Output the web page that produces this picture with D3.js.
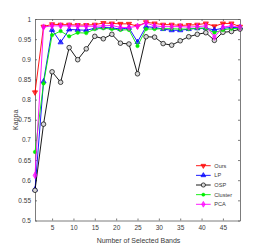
<!DOCTYPE html>
<html>
<head>
<meta charset="utf-8">
<script src="https://cdn.jsdelivr.net/npm/d3@7"></script>
<style>
  body { margin: 0; background: #fff; }
  svg { display: block; font-family: "Liberation Sans", Arial, sans-serif; }
</style>
</head>
<body>
<div id="chart"></div>
<script>
// number of selected bands (x)
const bands = [1, 3, 5, 7, 9, 11, 13, 15, 17, 19, 21, 23, 25, 27, 29, 31, 33, 35, 37, 39, 41, 43, 45, 47, 49];

// kappa values per method
const ours = [0.818, 0.981, 0.987, 0.986, 0.986, 0.985, 0.985, 0.986, 0.990, 0.989, 0.988, 0.988, 0.982,
              0.992, 0.989, 0.986, 0.986, 0.984, 0.985, 0.986, 0.989, 0.982, 0.989, 0.989, 0.981];
const lp = [0.577, 0.845, 0.973, 0.942, 0.974, 0.973, 0.972, 0.977, 0.979, 0.978, 0.975, 0.978, 0.943,
            0.981, 0.979, 0.975, 0.972, 0.972, 0.975, 0.977, 0.977, 0.973, 0.977, 0.979, 0.979];
const osp = [0.575, 0.739, 0.869, 0.843, 0.929, 0.899, 0.926, 0.957, 0.951, 0.962, 0.940, 0.938, 0.864,
             0.956, 0.955, 0.939, 0.935, 0.946, 0.956, 0.962, 0.966, 0.947, 0.967, 0.969, 0.975];
const cluster = [0.670, 0.840, 0.960, 0.970, 0.957, 0.966, 0.965, 0.975, 0.977, 0.975, 0.973, 0.973, 0.933,
                 0.975, 0.975, 0.976, 0.976, 0.975, 0.975, 0.977, 0.977, 0.966, 0.973, 0.976, 0.977];
const pca = [0.612, 0.980, 0.983, 0.983, 0.983, 0.982, 0.982, 0.982, 0.983, 0.984, 0.979, 0.979, 0.982,
             0.990, 0.983, 0.981, 0.981, 0.981, 0.980, 0.981, 0.983, 0.955, 0.980, 0.983, 0.979];

const xTicks = [5, 10, 15, 20, 25, 30, 35, 40, 45];
const yTicks = [0.5, 0.55, 0.6, 0.65, 0.7, 0.75, 0.8, 0.85, 0.9, 0.95, 1];

const series = [
  { name: "Ours", values: ours, color: "#ff0000", marker: "down" },
  { name: "LP", values: lp, color: "#0000ff", marker: "up" },
  { name: "OSP", values: osp, color: "#000000", marker: "circle" },
  { name: "Cluster", values: cluster, color: "#00ee00", marker: "dot" },
  { name: "PCA", values: pca, color: "#ff00ff", marker: "diamond" }
];

const width = 266, height = 248;
const margin = { top: 19, right: 26, bottom: 27.5, left: 35 };
const innerW = width - margin.left - margin.right;
const innerH = height - margin.top - margin.bottom;

const svg = d3.select("#chart").append("svg")
  .attr("width", width)
  .attr("height", height);

const g = svg.append("g")
  .attr("transform", `translate(${margin.left},${margin.top})`);

const x = d3.scaleLinear().domain([1, 49]).range([0, innerW]);
const y = d3.scaleLinear().domain([0.5, 1]).range([innerH, 0]);

const axisColor = "#5a5a5a";
const textColor = "#3a3a3a";

// axes (matlab style, ticks inside, box on)
const xAxis = g.append("g")
  .attr("transform", `translate(0,${innerH})`)
  .call(d3.axisBottom(x).tickValues(xTicks).tickSize(-2).tickPadding(5).tickSizeOuter(0));
const yAxis = g.append("g")
  .call(d3.axisLeft(y).tickValues(yTicks).tickSize(-2).tickPadding(4).tickSizeOuter(0)
    .tickFormat(d => d3.format("")(+d.toFixed(2))));
const xTop = g.append("g")
  .call(d3.axisTop(x).tickValues(xTicks).tickSize(-2).tickFormat("").tickSizeOuter(0));
const yRight = g.append("g")
  .attr("transform", `translate(${innerW},0)`)
  .call(d3.axisRight(y).tickValues(yTicks).tickSize(-2).tickFormat("").tickSizeOuter(0));

[xAxis, yAxis, xTop, yRight].forEach(a => {
  a.selectAll("path, line").attr("stroke", axisColor).attr("stroke-width", 0.8);
  a.selectAll("text").attr("fill", textColor).style("font-size", "6.5px");
});

// lines and markers
const line = d3.line()
  .x((d, i) => x(bands[i]))
  .y(d => y(d));

function drawMarker(sel, type, color, size) {
  const s = size;
  if (type === "circle") {
    sel.append("circle").attr("r", s * 0.5)
      .attr("fill", "#d8d8d8").attr("stroke", color).attr("stroke-width", 0.7);
  } else if (type === "dot") {
    sel.append("circle").attr("r", s * 0.38)
      .attr("fill", color).attr("stroke", color).attr("stroke-width", 0.5);
  } else {
    const symType = type === "diamond" ? d3.symbolDiamond : d3.symbolTriangle;
    sel.append("path")
      .attr("d", d3.symbol().type(symType).size(s * s * 0.55)())
      .attr("transform", type === "down" ? "rotate(180)" : null)
      .attr("fill", color).attr("fill-opacity", 0.7)
      .attr("stroke", color).attr("stroke-width", 0.7);
  }
}

series.forEach(s => {
  g.append("path")
    .datum(s.values)
    .attr("fill", "none")
    .attr("stroke", s.color)
    .attr("stroke-width", 0.9)
    .attr("d", line);

  g.append("g").selectAll("g")
    .data(s.values)
    .join("g")
    .attr("transform", (d, i) => `translate(${x(bands[i])},${y(d)})`)
    .each(function () { drawMarker(d3.select(this), s.marker, s.color, 4.6); });
});

// legend
const legend = svg.append("g").attr("transform", "translate(196,165.7)");
series.forEach((s, i) => {
  const row = legend.append("g").attr("transform", `translate(0,${i * 9.65})`);
  row.append("line").attr("x1", 0).attr("x2", 14.7).attr("y1", 0).attr("y2", 0)
    .attr("stroke", s.color).attr("stroke-width", 0.9);
  const m = row.append("g").attr("transform", "translate(7.35,0)");
  drawMarker(m, s.marker, s.color, 4.2);
  row.append("text").attr("x", 18.3).attr("y", 2)
    .attr("fill", textColor).style("font-size", "5.6px")
    .text(s.name);
});

// axis labels
svg.append("text")
  .attr("x", margin.left + innerW / 2 + 1)
  .attr("y", 243)
  .attr("text-anchor", "middle")
  .attr("fill", textColor)
  .style("font-size", "7px")
  .text("Number of Selected Bands");

svg.append("text")
  .attr("transform", `translate(18,${margin.top + innerH / 2}) rotate(-90)`)
  .attr("text-anchor", "middle")
  .attr("fill", textColor)
  .style("font-size", "7px")
  .text("Kappa");
</script>
</body>
</html>
